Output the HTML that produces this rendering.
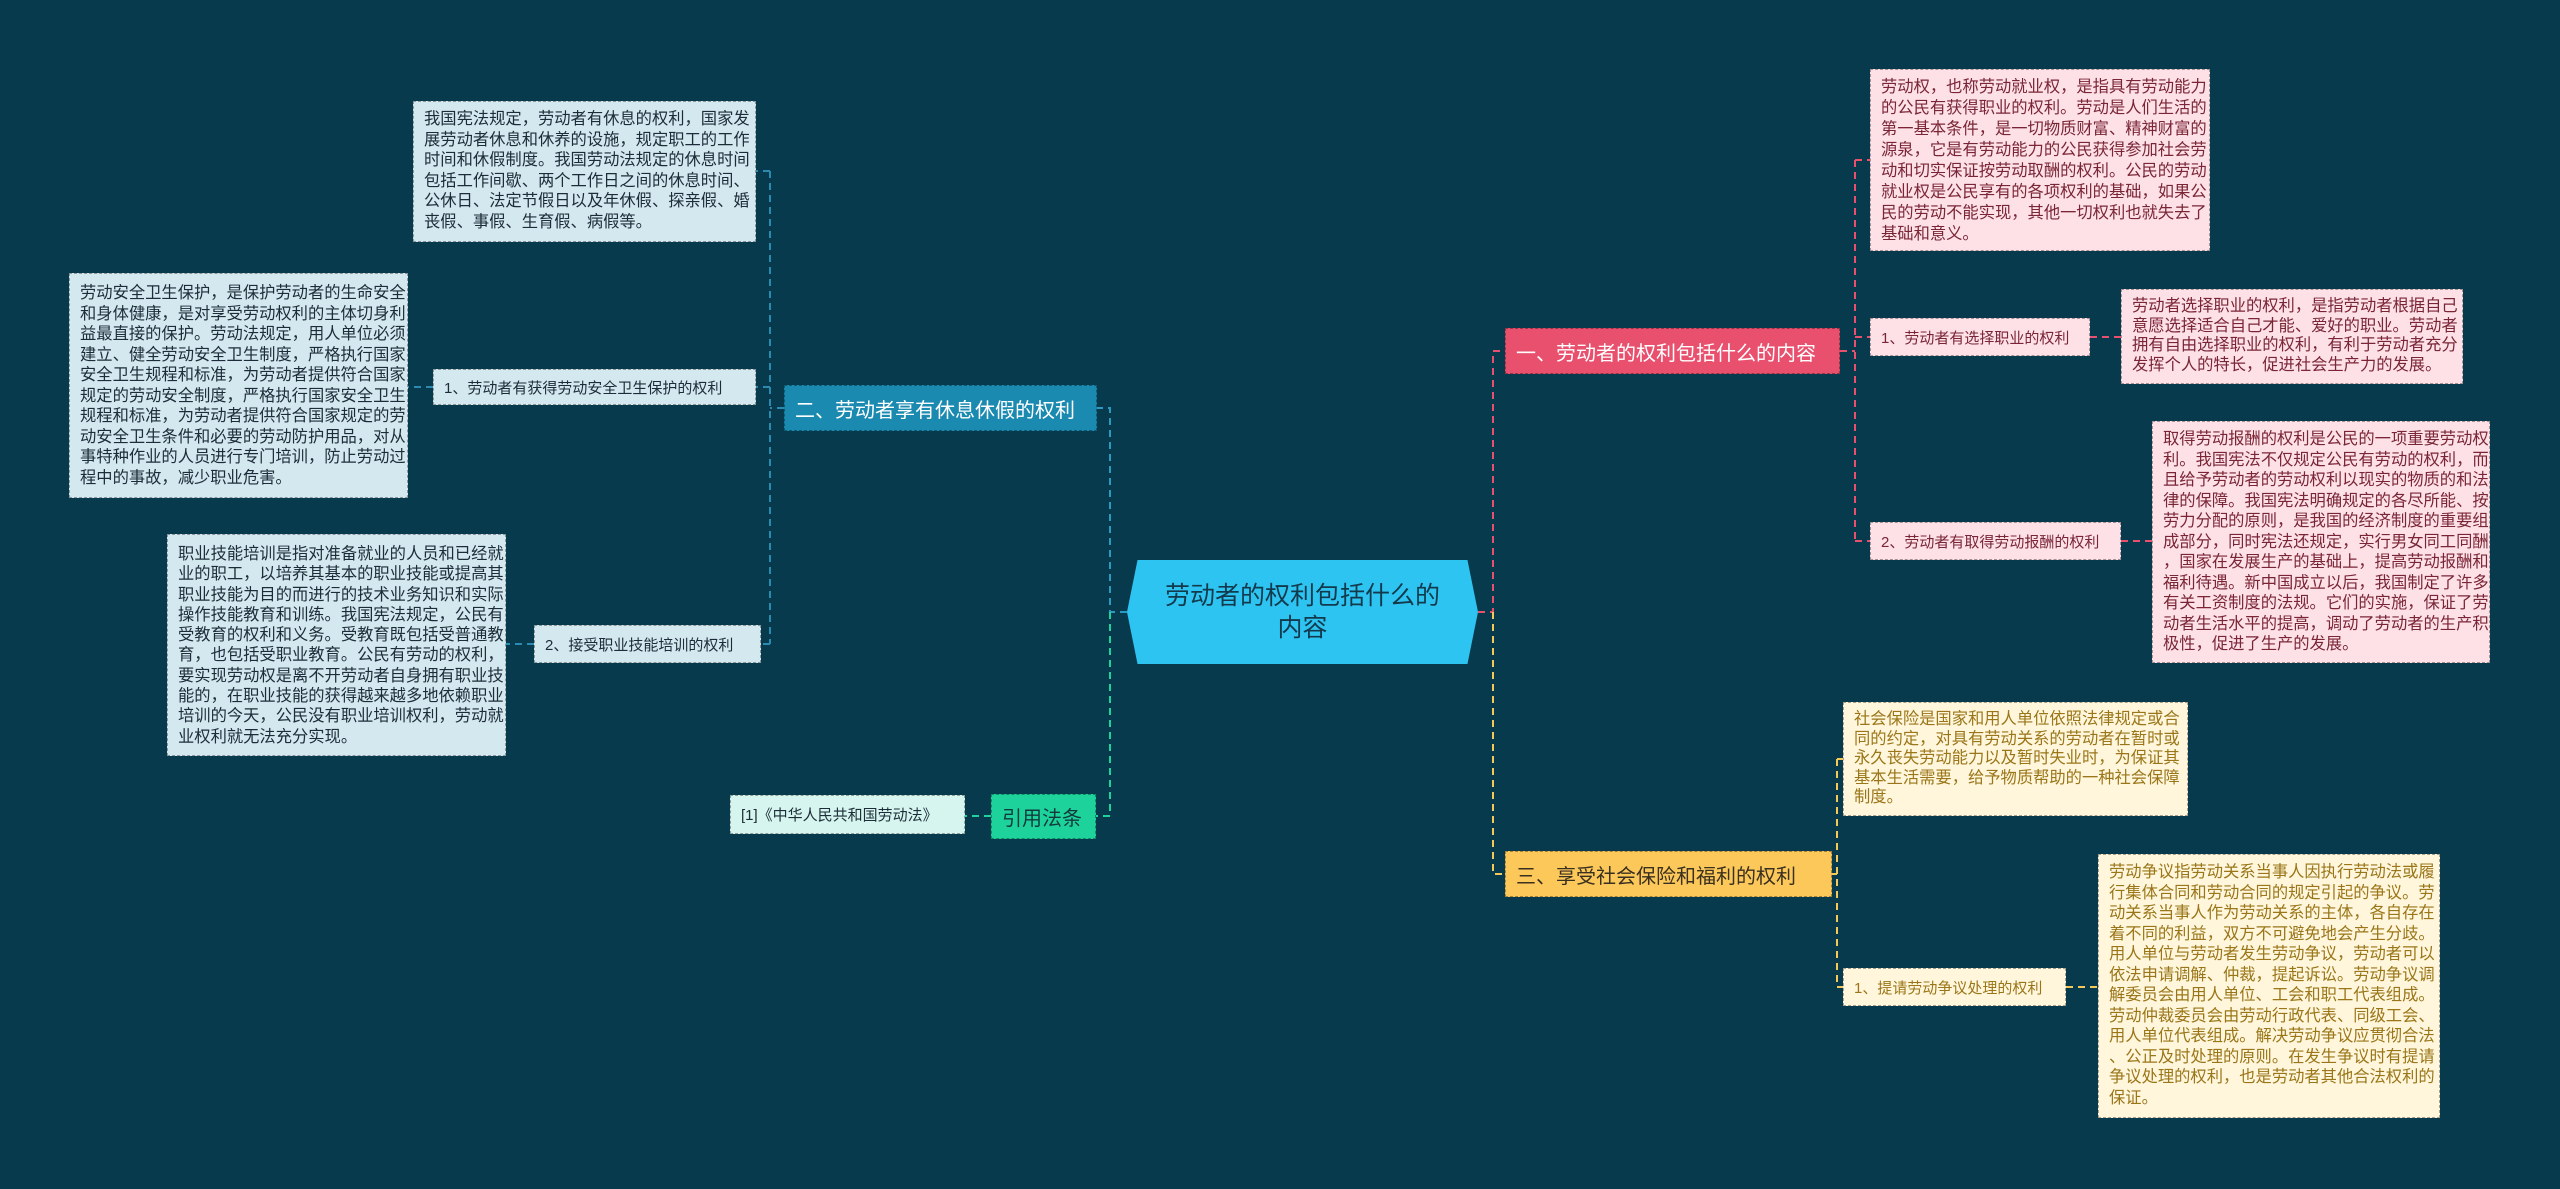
<!DOCTYPE html>
<html><head><meta charset="utf-8"><style>
body{margin:0;width:2560px;height:1189px;background:#073a4c;position:relative;overflow:hidden;font-family:"Liberation Sans","Noto Sans CJK SC",sans-serif}
.b{position:absolute;box-sizing:border-box;border:1px dashed rgba(0,0,0,.35);white-space:nowrap}
.p{font-size:16.3px;line-height:20.5px;padding:7px 10px}
.pk{background:#fde1e7;color:#7a2535}
.yl{background:#fff6dc;color:#9a7618}
.bl{background:#d4e8f0;color:#1c2c38}
.s{font-size:16px;display:flex;align-items:center;padding:0 10px}
.m{font-size:22px;display:flex;align-items:center;justify-content:center;padding:0 12px}
svg{position:absolute;left:0;top:0}
</style></head><body>
<svg width="2560" height="1189" fill="none" stroke-width="2" stroke-dasharray="7,5">
<path d="M1478 612 H1493 V351 H1505" stroke="#e8506e"/>
<path d="M1493 612 V874 H1505" stroke="#f5c85a"/>
<path d="M1840 351 H1855 M1855 160 V541 M1855 160 H1870 M1855 337 H1870 M1855 541 H1870 M2090 337 H2121 M2121 541 H2152" stroke="#e8506e"/>
<path d="M1832 874 H1837 M1837 759 V987 M1837 759 H1843 M1837 987 H1843 M2066 987 H2098" stroke="#f5c85a"/>
<path d="M1127 612 H1110 V408 H1097" stroke="#2a9ac0"/>
<path d="M1110 612 V816 H1096" stroke="#1dd39b"/>
<path d="M784 408 H770 M770 171 V644 M770 171 H756 M770 387 H756 M770 644 H761 M433 387 H408 M534 644 H506" stroke="#2a8ab0"/>
<path d="M991 816 H965" stroke="#1dd39b"/>
</svg>

<div class="b m" style="left:1127px;top:560px;width:351px;height:104px;background:#2ec4f2;color:#123a4c;border:none;clip-path:polygon(3% 0,97% 0,100% 50%,97% 100%,3% 100%,0 50%);text-align:center;line-height:32px;white-space:normal;font-size:25px">劳动者的权利包括什么的<br>内容</div>

<div class="b s" style="left:1505px;top:328px;width:335px;height:46px;background:#e8506e;color:#fff;font-size:20px">一、劳动者的权利包括什么的内容</div>
<div class="b p pk" style="left:1870px;top:69px;width:340px;height:182px;line-height:21px">劳动权，也称劳动就业权，是指具有劳动能力<br>的公民有获得职业的权利。劳动是人们生活的<br>第一基本条件，是一切物质财富、精神财富的<br>源泉，它是有劳动能力的公民获得参加社会劳<br>动和切实保证按劳动取酬的权利。公民的劳动<br>就业权是公民享有的各项权利的基础，如果公<br>民的劳动不能实现，其他一切权利也就失去了<br>基础和意义。</div>
<div class="b s pk" style="left:1870px;top:318px;width:220px;height:38px;font-size:15px">1、劳动者有选择职业的权利</div>
<div class="b p pk" style="left:2121px;top:289px;width:342px;height:95px;line-height:19.5px">劳动者选择职业的权利，是指劳动者根据自己<br>意愿选择适合自己才能、爱好的职业。劳动者<br>拥有自由选择职业的权利，有利于劳动者充分<br>发挥个人的特长，促进社会生产力的发展。</div>
<div class="b s pk" style="left:1870px;top:522px;width:251px;height:38px;font-size:15px">2、劳动者有取得劳动报酬的权利</div>
<div class="b p pk" style="left:2152px;top:421px;width:338px;height:242px">取得劳动报酬的权利是公民的一项重要劳动权<br>利。我国宪法不仅规定公民有劳动的权利，而<br>且给予劳动者的劳动权利以现实的物质的和法<br>律的保障。我国宪法明确规定的各尽所能、按<br>劳力分配的原则，是我国的经济制度的重要组<br>成部分，同时宪法还规定，实行男女同工同酬<br>，国家在发展生产的基础上，提高劳动报酬和<br>福利待遇。新中国成立以后，我国制定了许多<br>有关工资制度的法规。它们的实施，保证了劳<br>动者生活水平的提高，调动了劳动者的生产积<br>极性，促进了生产的发展。</div>

<div class="b s" style="left:1505px;top:851px;width:327px;height:46px;background:#fdc85a;color:#3a3020;font-size:20px">三、享受社会保险和福利的权利</div>
<div class="b p yl" style="left:1843px;top:702px;width:345px;height:114px;line-height:19.5px">社会保险是国家和用人单位依照法律规定或合<br>同的约定，对具有劳动关系的劳动者在暂时或<br>永久丧失劳动能力以及暂时失业时，为保证其<br>基本生活需要，给予物质帮助的一种社会保障<br>制度。</div>
<div class="b s yl" style="left:1843px;top:968px;width:223px;height:38px;font-size:15px">1、提请劳动争议处理的权利</div>
<div class="b p yl" style="left:2098px;top:854px;width:342px;height:264px">劳动争议指劳动关系当事人因执行劳动法或履<br>行集体合同和劳动合同的规定引起的争议。劳<br>动关系当事人作为劳动关系的主体，各自存在<br>着不同的利益，双方不可避免地会产生分歧。<br>用人单位与劳动者发生劳动争议，劳动者可以<br>依法申请调解、仲裁，提起诉讼。劳动争议调<br>解委员会由用人单位、工会和职工代表组成。<br>劳动仲裁委员会由劳动行政代表、同级工会、<br>用人单位代表组成。解决劳动争议应贯彻合法<br>、公正及时处理的原则。在发生争议时有提请<br>争议处理的权利，也是劳动者其他合法权利的<br>保证。</div>

<div class="b s" style="left:784px;top:385px;width:313px;height:46px;background:#1a8ab0;color:#fff;font-size:20px">二、劳动者享有休息休假的权利</div>
<div class="b p bl" style="left:413px;top:101px;width:343px;height:141px">我国宪法规定，劳动者有休息的权利，国家发<br>展劳动者休息和休养的设施，规定职工的工作<br>时间和休假制度。我国劳动法规定的休息时间<br>包括工作间歇、两个工作日之间的休息时间、<br>公休日、法定节假日以及年休假、探亲假、婚<br>丧假、事假、生育假、病假等。</div>
<div class="b s bl" style="left:433px;top:369px;width:323px;height:36px;font-size:15px">1、劳动者有获得劳动安全卫生保护的权利</div>
<div class="b p bl" style="left:69px;top:273px;width:339px;height:225px;line-height:20.5px;padding-top:9px">劳动安全卫生保护，是保护劳动者的生命安全<br>和身体健康，是对享受劳动权利的主体切身利<br>益最直接的保护。劳动法规定，用人单位必须<br>建立、健全劳动安全卫生制度，严格执行国家<br>安全卫生规程和标准，为劳动者提供符合国家<br>规定的劳动安全制度，严格执行国家安全卫生<br>规程和标准，为劳动者提供符合国家规定的劳<br>动安全卫生条件和必要的劳动防护用品，对从<br>事特种作业的人员进行专门培训，防止劳动过<br>程中的事故，减少职业危害。</div>
<div class="b s bl" style="left:534px;top:625px;width:227px;height:38px;font-size:15px">2、接受职业技能培训的权利</div>
<div class="b p bl" style="left:167px;top:534px;width:339px;height:222px;line-height:20.3px;padding-top:9px">职业技能培训是指对准备就业的人员和已经就<br>业的职工，以培养其基本的职业技能或提高其<br>职业技能为目的而进行的技术业务知识和实际<br>操作技能教育和训练。我国宪法规定，公民有<br>受教育的权利和义务。受教育既包括受普通教<br>育，也包括受职业教育。公民有劳动的权利，<br>要实现劳动权是离不开劳动者自身拥有职业技<br>能的，在职业技能的获得越来越多地依赖职业<br>培训的今天，公民没有职业培训权利，劳动就<br>业权利就无法充分实现。</div>

<div class="b s" style="left:991px;top:794px;width:105px;height:45px;background:#1dd39b;color:#123a3c;font-size:20px">引用法条</div>
<div class="b s" style="left:730px;top:795px;width:235px;height:39px;background:#d6f5ee;color:#1c2c38;font-size:15px">[1]《中华人民共和国劳动法》</div>
</body></html>
